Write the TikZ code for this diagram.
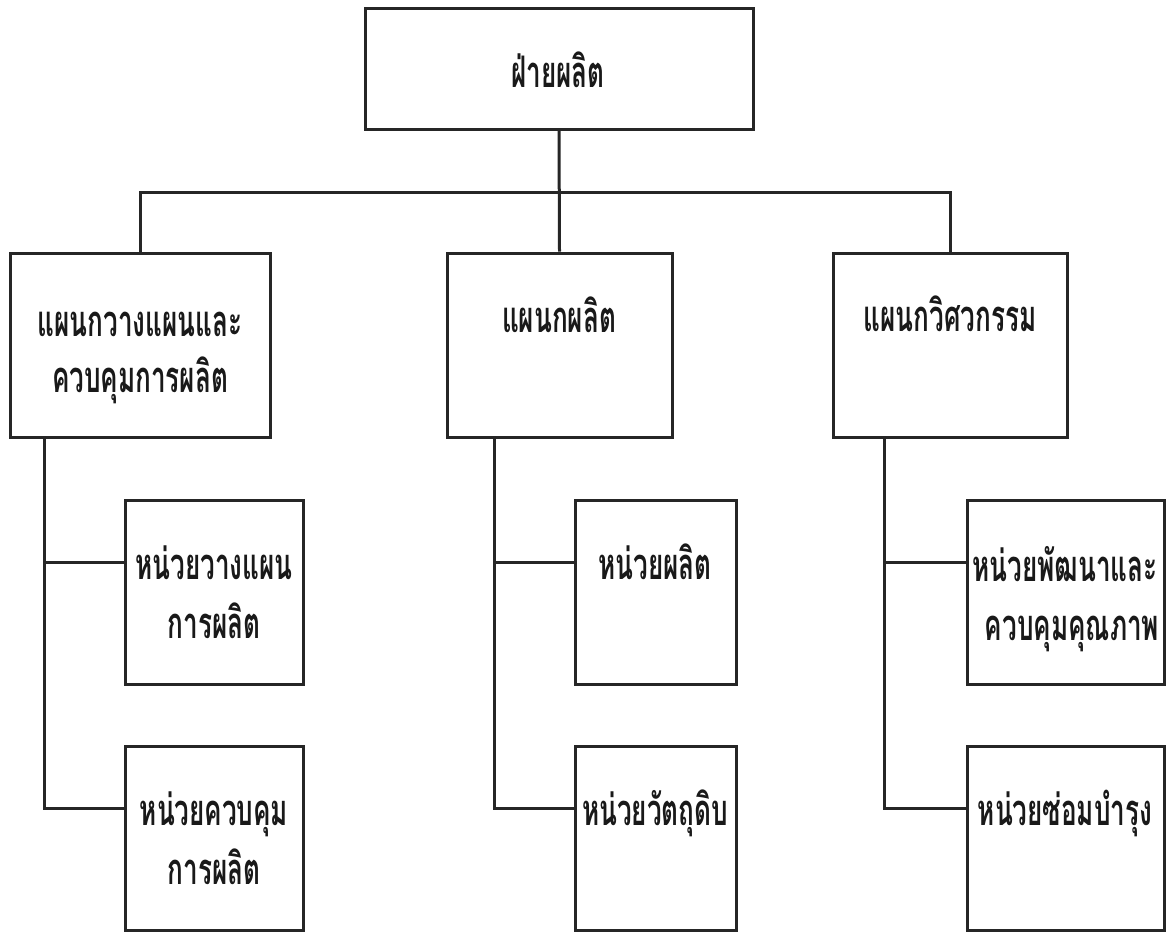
\documentclass[tikz,border=0pt]{standalone}
\usepackage{fontspec}
\newfontfamily\thaifont[Script=Thai]{Loma}
\newcommand{\thn}[1]{\scalebox{0.87}[1.45]{#1}}
\begin{document}
\begin{tikzpicture}[x=1pt,y=-1pt,
  box/.style={draw=black!85, line width=3pt, inner sep=0pt, minimum width=#1},
  lbl/.style={anchor=base, inner sep=0pt, font=\thaifont\bfseries\fontsize{30}{30}\selectfont, text=black!90},
  conn/.style={draw=black!85, line width=3pt}]
\useasboundingbox[fill=white] (0,0) rectangle (1169,932);
% boxes
\node[box=388, minimum height=121] (top) at (559,68.5) {};
\node[box=260, minimum height=184] (dA) at (140,345) {};
\node[box=225, minimum height=184] (dB) at (559.5,345) {};
\node[box=234, minimum height=184] (dC) at (950,345) {};
\node[box=178, minimum height=184] (uA1) at (214,592) {};
\node[box=178, minimum height=184] (uA2) at (214,838) {};
\node[box=161, minimum height=184] (uB1) at (655.5,592) {};
\node[box=161, minimum height=184] (uB2) at (655.5,838) {};
\node[box=197, minimum height=184] (uC1) at (1065.5,592) {};
\node[box=197, minimum height=184] (uC2) at (1065.5,838) {};
% labels
\node[lbl] (tTop) at (558,87) {\thn{ฝ่ายผลิต}};
\node[lbl] (tA1) at (140,336) {\thn{แผนกวางแผนและ}};
\node[lbl] (tA2) at (140,392) {\thn{ควบคุมการผลิต}};
\node[lbl] (tB) at (559,332) {\thn{แผนกผลิต}};
\node[lbl] (tC) at (950,331) {\thn{แผนกวิศวกรรม}};
\node[lbl] (tA11) at (214,579) {\thn{หน่วยวางแผน}};
\node[lbl] (tA12) at (214,638) {\thn{การผลิต}};
\node[lbl] (tA21) at (214,825) {\thn{หน่วยควบคุม}};
\node[lbl] (tA22) at (214,884) {\thn{การผลิต}};
\node[lbl] (tB1) at (655,579) {\thn{หน่วยผลิต}};
\node[lbl] (tB2) at (655,825) {\thn{หน่วยวัตถุดิบ}};
\node[lbl] (tC11) at (1065,581) {\thn{หน่วยพัฒนาและ}};
\node[lbl] (tC12) at (1072,640) {\thn{ควบคุมคุณภาพ}};
\node[lbl] (tC2) at (1065,825) {\thn{หน่วยซ่อมบำรุง}};
% connectors
\coordinate (bus) at (0,192);
\draw[conn] (top.south) -- (dB.north);
\draw[conn] (dA.north) -- (dA.north |- bus) -- (dC.north |- bus) -- (dC.north);
\coordinate (jA1) at (44,562);
\coordinate (jA2) at (44,808);
\coordinate (jB1) at (494,562);
\coordinate (jB2) at (494,808);
\coordinate (jC1) at (884,562);
\coordinate (jC2) at (884,808);
\draw[conn] (jA2 |- dA.south) -- (jA2) -- (uA2.west |- jA2);
\draw[conn] (jA1) -- (uA1.west |- jA1);
\draw[conn] (jB2 |- dB.south) -- (jB2) -- (uB2.west |- jB2);
\draw[conn] (jB1) -- (uB1.west |- jB1);
\draw[conn] (jC2 |- dC.south) -- (jC2) -- (uC2.west |- jC2);
\draw[conn] (jC1) -- (uC1.west |- jC1);
\end{tikzpicture}
\end{document}
